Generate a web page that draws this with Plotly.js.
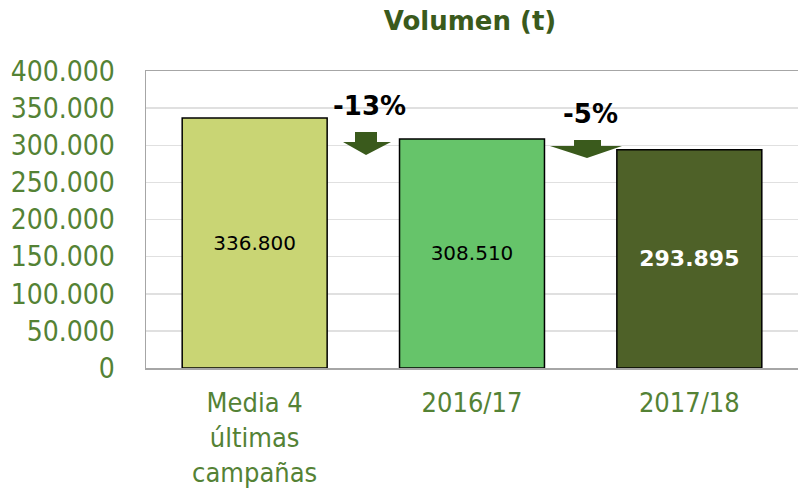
<!DOCTYPE html>
<html>
<head>
<meta charset="utf-8">
<script src="https://cdn.plot.ly/plotly-3.0.1.min.js"></script>
<style>html,body{margin:0;padding:0;background:#fff}#chart{width:798px;height:491px}</style>
</head>
<body>
<div id="chart"></div>
<script>
// Data
const categories = ['Media 4<br>últimas<br>campañas', '2016/17', '2017/18'];
const volumen = [336800, 308510, 293895];
const changeLabels = ['-13%', '-5%'];
const yTickVals = [0, 50000, 100000, 150000, 200000, 250000, 300000, 350000, 400000];

const xIdx = categories.map((c, i) => i);
const FONT = '"DejaVu Sans Condensed", "DejaVu Sans", sans-serif';
const BFONT = '"DejaVu Sans", sans-serif';

const trace = {
  type: 'bar',
  x: xIdx,
  y: volumen,
  marker: {
    color: ['#c9d574', '#66c46a', '#4e6128'],
    line: {color: '#000000', width: 1.5}
  },
  texttemplate: ['%{y:,.0f}', '%{y:,.0f}', '<b>%{y:,.0f}</b>'],
  textposition: 'inside',
  insidetextanchor: 'middle',
  textangle: 0,
  textfont: {family: BFONT, size: [20, 20, 22], color: ['#000000', '#000000', '#ffffff']},
  hoverinfo: 'none',
  cliponaxis: false
};

function arrow(x0, x1, hx0, hx1, tipx, ys0, ys1, tipy) {
  return {
    type: 'path', xref: 'x', yref: 'y',
    path: `M ${x0},${ys0} L ${x1},${ys0} L ${x1},${ys1} L ${hx1},${ys1} L ${tipx},${tipy} L ${hx0},${ys1} L ${x0},${ys1} Z`,
    fillcolor: '#3a5a1c', line: {width: 0}
  };
}

const layout = {
  width: 798, height: 491,
  margin: {l: 146, r: 0, t: 71, b: 123},
  paper_bgcolor: '#ffffff', plot_bgcolor: '#ffffff',
  separators: ',.',
  showlegend: false,
  bargap: 0.333,
  title: {
    text: '<b>Volumen (t)</b>',
    font: {family: BFONT, size: 26, color: '#3a5a1c'},
    x: 470 / 798, xanchor: 'center', xref: 'container',
    y: 1 - 21 / 491, yanchor: 'middle', yref: 'container'
  },
  xaxis: {
    type: 'linear',
    range: [-0.5, 2.5],
    tickvals: xIdx,
    ticktext: categories,
    showgrid: false, zeroline: false,
    showline: true, linecolor: '#a6a6a6', linewidth: 1.5, mirror: true,
    ticks: '', ticklabelstandoff: 10,
    tickfont: {family: FONT, size: 27, color: '#548235'},
    fixedrange: true
  },
  yaxis: {
    range: [0, 400000],
    tickvals: yTickVals,
    tickformat: ',.0f',
    showgrid: true, gridcolor: '#e0e0e0', gridwidth: 1.5,
    zeroline: false,
    showline: true, linecolor: '#a6a6a6', linewidth: 1.5,
    ticks: '', ticklabelstandoff: 24,
    tickfont: {family: FONT, size: 28, color: '#548235'},
    fixedrange: true
  },
  shapes: [
    arrow(0.4617, 0.5629, 0.4065, 0.6273, 0.5123, 317845, 304377, 286868),
    arrow(1.4694, 1.5936, 1.3589, 1.6902, 1.5292, 307072, 298991, 282828)
  ],
  annotations: [
    {x: 0.530, y: 352500, xref: 'x', yref: 'y', text: '<b>' + changeLabels[0] + '</b>', showarrow: false,
     font: {family: BFONT, size: 26, color: '#000000'}, xanchor: 'center', yanchor: 'middle'},
    {x: 1.543, y: 342000, xref: 'x', yref: 'y', text: '<b>' + changeLabels[1] + '</b>', showarrow: false,
     font: {family: BFONT, size: 26, color: '#000000'}, xanchor: 'center', yanchor: 'middle'}
  ]
};

Plotly.newPlot('chart', [trace], layout, {displayModeBar: false, staticPlot: true});
</script>
</body>
</html>
